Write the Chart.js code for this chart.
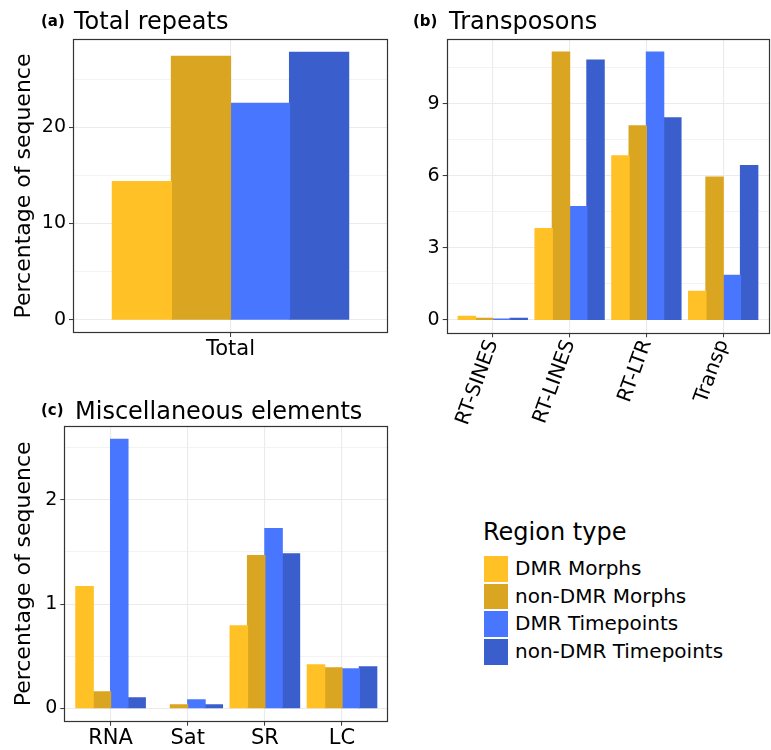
<!DOCTYPE html>
<html>
<head>
<meta charset="UTF-8">
<title>Repeat content by region type</title>
<script src="https://cdn.jsdelivr.net/npm/chart.js"></script>
<style>
  body { margin: 0; background: #fff; font-family: 'DejaVu Sans', sans-serif; color: #000; }
  #page { position: relative; width: 771px; height: 750px; overflow: hidden; }
  canvas { position: absolute; }
  .tag { position: absolute; font-size: 15px; line-height: 15px; font-weight: bold; }
  .panelTitle { position: absolute; font-size: 24px; line-height: 28px; white-space: nowrap; }
  #legendTitle { position: absolute; left: 483px; top: 518px; font-size: 24px; line-height: 28px; white-space: nowrap; }
  .key { position: absolute; left: 484px; width: 24px; height: 25.5px; }
  .keyLabel { position: absolute; left: 515px; font-size: 20px; line-height: 25.5px; white-space: nowrap; }
</style>
</head>
<body>
<div id="page">
  <canvas id="repeatsChart" width="390" height="370" style="left:0; top:0"></canvas>
  <canvas id="transposonChart" width="381" height="440" style="left:390px; top:0"></canvas>
  <canvas id="miscChart" width="390" height="363" style="left:0; top:387px"></canvas>

  <div class="tag" style="left:41px; top:14px">(a)</div>
  <div class="panelTitle" style="left:74px; top:7px">Total repeats</div>
  <div class="tag" style="left:413px; top:14px">(b)</div>
  <div class="panelTitle" style="left:449px; top:7px">Transposons</div>
  <div class="tag" style="left:41px; top:403px">(c)</div>
  <div class="panelTitle" style="left:75px; top:397px">Miscellaneous elements</div>

  <div id="legendTitle">Region type</div>
  <div id="legendItems"></div>
</div>

<script>
// series (same order in every panel)
const seriesNames = ['DMR Morphs', 'non-DMR Morphs', 'DMR Timepoints', 'non-DMR Timepoints'];
const seriesColors = ['#FFC125', '#DAA520', '#4876FF', '#3A5FCD'];

// (a) total repeats
const totalCats = ['Total'];
const totalDmrMorphs = [14.34];
const totalNonDmrMorphs = [27.37];
const totalDmrTimepoints = [22.48];
const totalNonDmrTimepoints = [27.79];
const totalGrid = [0, 5, 10, 15, 20, 25];
const totalLabels = [0, 10, 20];

// (b) transposons
const transCats = ['RT-SINES', 'RT-LINES', 'RT-LTR', 'Transp'];
const transDmrMorphs = [0.15, 3.80, 6.83, 1.19];
const transNonDmrMorphs = [0.07, 11.15, 8.08, 5.95];
const transDmrTimepoints = [0.03, 4.72, 11.15, 1.85];
const transNonDmrTimepoints = [0.07, 10.82, 8.41, 6.42];
const transGrid = [0, 1.5, 3, 4.5, 6, 7.5, 9, 10.5];
const transLabels = [0, 3, 6, 9];

// (c) miscellaneous elements (no satellite DMR Morphs value)
const miscCats = ['RNA', 'Sat', 'SR', 'LC'];
const miscDmrMorphs = [1.167, null, 0.79, 0.416];
const miscNonDmrMorphs = [0.157, 0.032, 1.465, 0.387];
const miscDmrTimepoints = [2.58, 0.08, 1.724, 0.378];
const miscNonDmrTimepoints = [0.099, 0.032, 1.483, 0.397];
const miscGrid = [0, 0.5, 1, 1.5, 2, 2.5];
const miscLabels = [0, 1, 2];

Chart.defaults.font.family = "'DejaVu Sans', sans-serif";
Chart.defaults.color = '#000';

const GRID = '#EBEBEB';
const FRAME = '#333333';

// panel border drawn on top of everything
const panelFrame = {
  id: 'panelFrame',
  afterDraw(chart) {
    const a = chart.chartArea;
    const ctx = chart.ctx;
    ctx.save();
    ctx.strokeStyle = FRAME;
    ctx.lineWidth = 1.2;
    ctx.strokeRect(Math.round(a.left) + 0.5, Math.round(a.top) + 0.5,
      Math.round(a.right - a.left) - 1, Math.round(a.bottom - a.top) - 1);
    ctx.restore();
  }
};

function buildDatasets(series, catPct) {
  return series.map((vals, i) => ({
    label: seriesNames[i],
    data: vals.map((v, j) => ({ x: j + 1, y: v })),
    backgroundColor: seriesColors[i],
    borderWidth: 0,
    inflateAmount: 0.6,
    categoryPercentage: catPct,
    barPercentage: 1
  }));
}

function drawPanel(canvasId, cfg) {
  const maxVal = Math.max(...cfg.series.flat().filter(v => v !== null));
  const isMajor = v => cfg.labels.includes(v);
  return new Chart(document.getElementById(canvasId), {
    type: 'bar',
    data: { datasets: buildDatasets(cfg.series, cfg.catPct) },
    plugins: [panelFrame],
    options: {
      responsive: false,
      animation: false,
      layout: { padding: { left: 0, right: cfg.padRight, top: cfg.padTop, bottom: 0 } },
      plugins: {
        legend: { display: false },
        tooltip: { enabled: false },
        title: { display: false }
      },
      scales: {
        x: {
          type: 'linear',
          offset: false,
          bounds: 'data',
          min: 0.4,
          max: cfg.cats.length + 0.6,
          afterBuildTicks: s => { s.ticks = cfg.cats.map((c, i) => ({ value: i + 1 })); },
          afterFit: s => { s.height = cfg.xAxisHeight; },
          ticks: {
            autoSkip: false,
            minRotation: cfg.rotation,
            maxRotation: cfg.rotation,
            padding: cfg.rotation ? 0 : 2,
            color: '#000',
            font: { size: cfg.xFontSize, lineHeight: 1 },
            callback: v => cfg.cats[v - 1]
          },
          grid: { offset: false, color: GRID, lineWidth: 1.1, tickLength: 4, tickColor: FRAME, tickWidth: 1 },
          border: { display: false }
        },
        y: {
          bounds: 'data',
          min: -0.05 * maxVal,
          max: 1.05 * maxVal,
          afterBuildTicks: s => { s.ticks = cfg.grid.map(v => ({ value: v })); },
          afterFit: s => { s.width = cfg.yAxisWidth; },
          ticks: {
            autoSkip: false,
            padding: 3,
            color: '#000',
            font: { size: 19 },
            callback: v => isMajor(v) ? String(v) : ''
          },
          grid: {
            color: GRID,
            lineWidth: c => isMajor(c.tick.value) ? 1.1 : 0.6,
            tickLength: 4,
            tickWidth: 1,
            tickColor: c => isMajor(c.tick.value) ? FRAME : 'rgba(0,0,0,0)'
          },
          border: { display: false },
          title: {
            display: !!cfg.yTitle,
            text: cfg.yTitle,
            color: '#000',
            font: { size: 22 },
            padding: { top: 11, bottom: 0 }
          }
        }
      }
    }
  });
}

drawPanel('repeatsChart', {
  yTitle: 'Percentage of sequence',
  cats: totalCats,
  series: [totalDmrMorphs, totalNonDmrMorphs, totalDmrTimepoints, totalNonDmrTimepoints],
  grid: totalGrid,
  labels: totalLabels,
  catPct: 0.75,
  rotation: 0,
  xFontSize: 21,
  yAxisWidth: 73,
  xAxisHeight: 37,
  padTop: 39,
  padRight: 2
});

drawPanel('transposonChart', {
  yTitle: '',
  cats: transCats,
  series: [transDmrMorphs, transNonDmrMorphs, transDmrTimepoints, transNonDmrTimepoints],
  grid: transGrid,
  labels: transLabels,
  catPct: 0.9,
  rotation: 70,
  xFontSize: 20,
  yAxisWidth: 56.7,
  xAxisHeight: 106.7,
  padTop: 38.7,
  padRight: 1.7
});

drawPanel('miscChart', {
  yTitle: 'Percentage of sequence',
  cats: miscCats,
  series: [miscDmrMorphs, miscNonDmrMorphs, miscDmrTimepoints, miscNonDmrTimepoints],
  grid: miscGrid,
  labels: miscLabels,
  catPct: 0.9,
  rotation: 0,
  xFontSize: 21,
  yAxisWidth: 64.3,
  xAxisHeight: 28.3,
  padTop: 39,
  padRight: 1.7
});

// shared legend
const legendBox = document.getElementById('legendItems');
seriesNames.forEach((name, i) => {
  const top = 556 + i * 27.7;
  const key = document.createElement('div');
  key.className = 'key';
  key.style.top = top + 'px';
  key.style.background = seriesColors[i];
  const label = document.createElement('div');
  label.className = 'keyLabel';
  label.style.top = top + 'px';
  label.textContent = name;
  legendBox.appendChild(key);
  legendBox.appendChild(label);
});
</script>
</body>
</html>
